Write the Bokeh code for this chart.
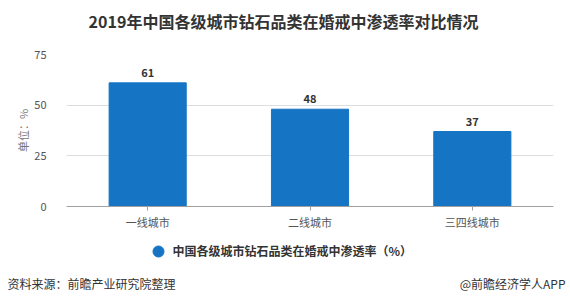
from bokeh.plotting import figure
from bokeh.models import (ColumnDataSource, Label, Range1d, FixedTicker, LabelSet)
from bokeh.layouts import column
from bokeh.core.properties import value
from bokeh.embed import file_html
from bokeh.resources import INLINE

categories = ["一线城市", "二线城市", "三四线城市"]
values = [61, 48, 37]
y_ticks = [0, 25, 50, 75]
series_name = "中国各级城市钻石品类在婚戒中渗透率（%）"
title_text = "2019年中国各级城市钻石品类在婚戒中渗透率对比情况"
source_text = "资料来源：前瞻产业研究院整理"
brand_text = "@前瞻经济学人APP"

FONT = "Noto Sans CJK SC"
BAR = "#1574c4"
W = 570
HEAD_H, MAIN_H, FOOT_H = 40, 196, 70


def blank(h):
    f = figure(width=W, height=h, x_range=Range1d(0, W), y_range=Range1d(h, 0),
               output_backend="svg", toolbar_location=None, min_border=0,
               frame_align=False)
    f.axis.visible = False
    f.grid.visible = False
    f.outline_line_color = None
    f.border_fill_color = "white"
    f.background_fill_color = "white"
    return f


def lab(f, x, y, text, align, size, style="normal", color="#333333"):
    f.add_layout(Label(x=x, y=y, text=text, text_align=align, text_baseline="middle",
                       text_font=FONT, text_font_size=size, text_font_style=style,
                       text_color=color))


# header
head = blank(HEAD_H)
lab(head, 283, 20, title_text, "center", "16px", "bold")

# main chart
src = ColumnDataSource(dict(cat=categories, val=values, lab=[str(v) for v in values]))
p = figure(width=W, height=MAIN_H, x_range=categories, y_range=Range1d(0, 75),
           output_backend="svg", toolbar_location=None,
           min_border_left=66, min_border_right=17, min_border_top=14, min_border_bottom=30)
p.outline_line_color = None
p.background_fill_color = "white"
p.border_fill_color = "white"

p.vbar(x="cat", top="val", width=0.475, source=src, color=BAR)
p.add_layout(LabelSet(x="cat", y="val", text="lab", source=src, y_offset=6,
                      text_align="center", text_baseline="bottom",
                      text_font=value(FONT), text_font_size=value("11px"),
                      text_font_style="bold", text_color="#333333"))

p.yaxis.ticker = FixedTicker(ticks=y_ticks)
p.yaxis.axis_line_color = None
p.yaxis.major_tick_line_color = None
p.yaxis.minor_tick_line_color = None
p.yaxis.major_label_standoff = 14
p.yaxis.major_label_text_font = FONT
p.yaxis.major_label_text_font_size = "11px"
p.yaxis.major_label_text_color = "#555555"
p.yaxis.axis_label = "单位：%"
p.yaxis.axis_label_text_font = FONT
p.yaxis.axis_label_text_font_size = "11px"
p.yaxis.axis_label_text_font_style = "normal"
p.yaxis.axis_label_text_color = "#777777"
p.yaxis.axis_label_standoff = 0

p.xaxis.axis_line_color = "#a0a0a0"
p.xaxis.major_tick_line_color = "#a0a0a0"
p.xaxis.major_tick_in = 0
p.xaxis.major_tick_out = 4
p.xaxis.minor_tick_line_color = None
p.xaxis.major_label_text_font = FONT
p.xaxis.major_label_text_font_size = "11px"
p.xaxis.major_label_text_color = "#555555"
p.xaxis.major_label_standoff = 3

p.xgrid.grid_line_color = None
p.ygrid.grid_line_color = "#dddddd"

# footer: legend + source
foot = blank(FOOT_H)
foot.scatter(x=[158], y=[15], marker="circle", size=11, color=BAR)
lab(foot, 172, 14, series_name, "left", "12px", "bold")
lab(foot, 7, 47, source_text, "left", "12px")
lab(foot, 565, 47, brand_text, "right", "12px")

layout = column(head, p, foot, spacing=0)
open("out.html", "w").write(file_html(layout, INLINE))
